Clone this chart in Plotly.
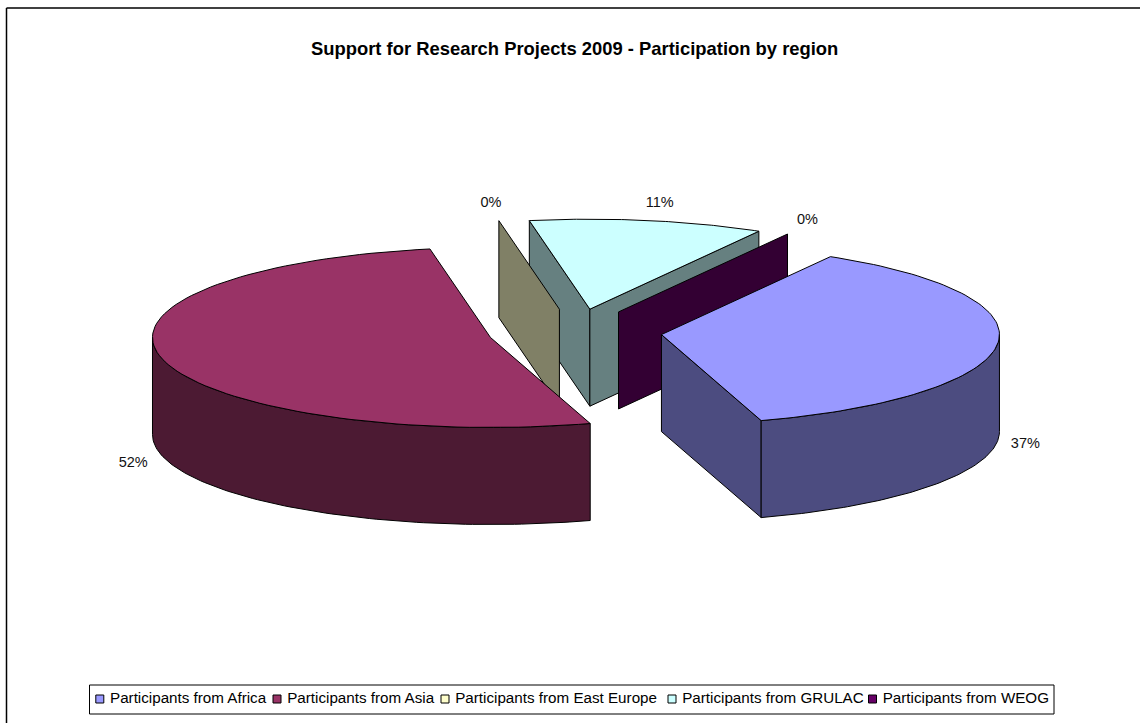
import math
import plotly.graph_objects as go

# --- data ---
categories = ["Participants from Africa", "Participants from Asia", "Participants from East Europe",
              "Participants from GRULAC", "Participants from WEOG"]
values = [36.9, 51.9, 0.0, 11.2, 0.0]
colors = ["#9999FF", "#993366", "#FFFFCC", "#CCFFFF", "#660066"]
title = "Support for Research Projects 2009 - Participation by region"

# --- 3D pie projection settings (pixels) ---
W, H = 1140, 723
CX, CY = 575, 332      # centre of un-exploded pie
RX, RY = 338, 90       # ellipse of the top face
DEPTH = 97             # height of the cylinder
EXPLODE = 87           # explosion of every slice
START = 30             # first slice angle, clockwise from 12 o'clock

label_offsets = [(28, 100), (-29, 104), (-8, -17), (12, -17), (20, -14)]
legend_swatch_x = [99.8, 277, 445, 672, 872.5]
legend_y = 699


def shade(hex_color, k=0.5):
    r, g, b = (int(hex_color[i:i + 2], 16) for i in (1, 3, 5))
    return f"rgb({round(r * k)},{round(g * k)},{round(b * k)})"


def rim(cx, cy, deg):
    a = math.radians(deg)
    return cx + RX * math.sin(a), cy - RY * math.cos(a)


def arc(cx, cy, a0, a1, n=90):
    return [rim(cx, cy, a0 + (a1 - a0) * i / n) for i in range(n + 1)]


def poly(fig, pts, fill, name):
    fig.add_trace(go.Scatter(
        x=[p[0] for p in pts] + [pts[0][0]], y=[p[1] for p in pts] + [pts[0][1]],
        mode="lines", fill="toself", fillcolor=fill, line=dict(color="black", width=1),
        name=name, hoverinfo="name", showlegend=False))


# slice geometry derived from the values
total = sum(values)
slices = []
angle = START
for v in values:
    sweep = v / total * 360
    mid = angle + sweep / 2
    m = math.radians(mid)
    cx = CX + EXPLODE * math.sin(m)
    cy = CY - EXPLODE * RY / RX * math.cos(m)
    slices.append(dict(a0=angle, a1=angle + sweep, mid=mid, cx=cx, cy=cy))
    angle += sweep


def draw_slice(fig, i):
    s = slices[i]
    name, top, side = categories[i], colors[i], shade(colors[i])
    cx, cy, a0, a1 = s["cx"], s["cy"], s["a0"], s["a1"]
    # radial walls that face the viewer
    for a, face_sign in ((a0, -1), (a1, 1)):
        wall_visible = -math.cos(math.radians(a + face_sign * 90)) > 0 or a0 == a1
        if wall_visible:
            p = rim(cx, cy, a)
            poly(fig, [(cx, cy), p, (p[0], p[1] + DEPTH), (cx, cy + DEPTH)], side, name)
            if a0 == a1:
                break
    # visible outer rim (front half of the ellipse)
    lo, hi = max(a0, 90), min(a1, 270)
    if hi > lo:
        edge = arc(cx, cy, lo, hi)
        lower = [(x, y + DEPTH) for x, y in reversed(edge)]
        poly(fig, edge + lower, side, name)
    if a1 > a0:
        poly(fig, [(cx, cy)] + arc(cx, cy, a0, a1), top, name)


fig = go.Figure()
for i in [3, 2, 4, 1, 0]:
    draw_slice(fig, i)

# percentage labels
for i, s in enumerate(slices):
    px, py = rim(s["cx"], s["cy"], s["mid"])
    fig.add_trace(go.Scatter(
        x=[px + label_offsets[i][0]], y=[py + label_offsets[i][1]], mode="text",
        text=[f"{round(values[i])}%"], textposition="middle center",
        textfont=dict(family="Liberation Sans", size=14.5, color="#111111"),
        hoverinfo="skip", showlegend=False))

# legend
for i, name in enumerate(categories):
    fig.add_trace(go.Scatter(
        x=[legend_swatch_x[i]], y=[legend_y], mode="markers+text",
        marker=dict(symbol="square", size=8, color=colors[i], line=dict(color="black", width=1)),
        text=[" " + name], textposition="middle right",
        textfont=dict(family="Liberation Sans", size=15.2, color="black"),
        name=name, hoverinfo="name", showlegend=False))

fig.update_layout(
    width=W, height=H, autosize=False, margin=dict(l=0, r=0, t=0, b=0),
    paper_bgcolor="white", plot_bgcolor="white", showlegend=False,
    xaxis=dict(range=[0, W], visible=False, fixedrange=True),
    yaxis=dict(range=[H, 0], visible=False, fixedrange=True),
    annotations=[dict(text=f"<b>{title}</b>", x=574.5, y=48, xref="x", yref="y", showarrow=False,
                      font=dict(family="Liberation Sans", size=18.4, color="black"))],
    shapes=[
        dict(type="rect", xref="x", yref="y", x0=89.5, x1=1054, y0=685, y1=714,
             line=dict(color="black", width=1), layer="below"),
        dict(type="line", xref="x", yref="y", x0=6.5, x1=W, y0=8, y1=8, line=dict(color="black", width=1.5)),
        dict(type="line", xref="x", yref="y", x0=6.5, x1=6.5, y0=8, y1=H, line=dict(color="black", width=1.5)),
    ],
)

fig.write_html("out.html", post_script="document.body.style.margin='0';", config={"displayModeBar": False})
